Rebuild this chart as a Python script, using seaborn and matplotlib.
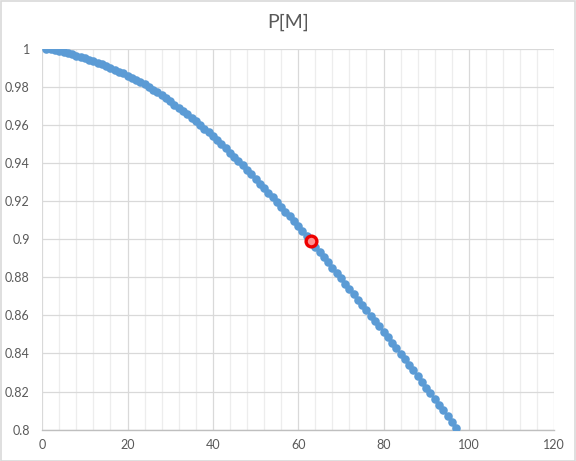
import numpy as np
import pandas as pd
import matplotlib
matplotlib.use("Agg")
import matplotlib.pyplot as plt
import seaborn as sns
from matplotlib.patches import Rectangle
from matplotlib.ticker import MultipleLocator, FuncFormatter

# ---- data ----
m_values = list(range(1, 98))
p_values = [
    1.0000, 0.9997, 0.9993, 0.9988, 0.9983, 0.9977, 0.9970, 0.9963, 0.9956, 0.9949,
    0.9942, 0.9934, 0.9926, 0.9918, 0.9909, 0.9900, 0.9890, 0.9880, 0.9870, 0.9859,
    0.9848, 0.9837, 0.9825, 0.9812, 0.9798, 0.9784, 0.9770, 0.9755, 0.9739, 0.9723,
    0.9707, 0.9690, 0.9673, 0.9656, 0.9638, 0.9620, 0.9601, 0.9581, 0.9561, 0.9541,
    0.9520, 0.9499, 0.9477, 0.9455, 0.9433, 0.9410, 0.9387, 0.9364, 0.9340, 0.9316,
    0.9292, 0.9268, 0.9244, 0.9220, 0.9195, 0.9170, 0.9145, 0.9120, 0.9094, 0.9068,
    0.9042, 0.9015, 0.8988, 0.8961, 0.8934, 0.8907, 0.8879, 0.8851, 0.8823, 0.8795,
    0.8767, 0.8739, 0.8711, 0.8683, 0.8655, 0.8627, 0.8599, 0.8571, 0.8543, 0.8514,
    0.8485, 0.8456, 0.8427, 0.8398, 0.8369, 0.8340, 0.8311, 0.8281, 0.8251, 0.8221,
    0.8191, 0.8161, 0.8131, 0.8101, 0.8071, 0.8041, 0.8010,
]
highlight_m = [63]
highlight_p = [0.8988]
title_text = "P[M]"

df = pd.DataFrame({"M": m_values, "P": p_values})
df_hl = pd.DataFrame({"M": highlight_m, "P": highlight_p})

sns.set_theme(style="white")
plt.rcParams["font.family"] = ["Lato", "DejaVu Sans"]

fig = plt.figure(figsize=(5.76, 4.61), dpi=100)
ax = fig.add_axes([0.0733, 0.0679, 0.9622 - 0.0733, 0.8944 - 0.0679])

grid_major = "#d9d9d9"
grid_minor = "#ededed"
text_col = "#595959"

ax.set_xlim(0, 120)
ax.set_ylim(0.8, 1.0)
ax.xaxis.set_major_locator(MultipleLocator(20))
ax.xaxis.set_minor_locator(MultipleLocator(4))
ax.yaxis.set_major_locator(MultipleLocator(0.02))
ax.grid(True, which="major", axis="both", color=grid_major, linewidth=0.9, zorder=0)
ax.grid(True, which="minor", axis="x", color=grid_minor, linewidth=0.9, zorder=0)
ax.set_axisbelow(True)

for s in ["top", "right", "left"]:
    ax.spines[s].set_visible(False)
ax.spines["bottom"].set_color("#bfbfbf")
ax.spines["bottom"].set_linewidth(1.0)

sns.scatterplot(data=df, x="M", y="P", ax=ax, color="#5b9bd5", s=38,
                edgecolor="#5b9bd5", linewidth=0, zorder=3, legend=False)
sns.scatterplot(data=df_hl, x="M", y="P", ax=ax, color="#ff9090", s=60,
                edgecolor="#ee0000", linewidth=2.4, zorder=4, legend=False)

ax.set_xlabel("")
ax.set_ylabel("")
ax.tick_params(axis="both", which="both", length=0, colors=text_col, labelsize=9)
ax.tick_params(axis="x", pad=7)
ax.tick_params(axis="y", pad=9)
ax.yaxis.set_major_formatter(FuncFormatter(lambda v, p: f"{v:.2f}".rstrip("0").rstrip(".")))

fig.text(0.5, 0.952, title_text, ha="center", va="center", fontsize=14, color=text_col)

fig.patches.append(Rectangle((0.001, 0.001), 0.997, 0.997, transform=fig.transFigure,
                             fill=False, edgecolor="#d9d9d9", linewidth=1.2))

fig.savefig("out.png", dpi=100)
